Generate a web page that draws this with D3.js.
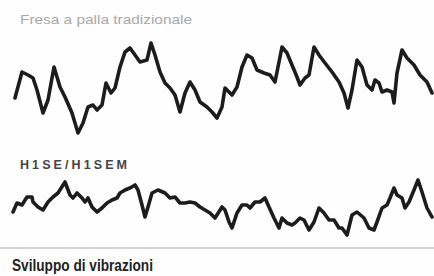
<!DOCTYPE html>
<html>
<head>
<meta charset="utf-8">
<script src="https://cdn.jsdelivr.net/npm/d3@7"></script>
<style>
  html, body { margin: 0; padding: 0; background: #fff; }
  svg { display: block; }
</style>
</head>
<body>
<svg id="chart" width="434" height="276"></svg>
<script>
// sample positions (time) and vibration amplitude, traditional ball-nose cutter
const tradTime = [15,22,28,33,37,43,48,54,60,65,72,78,83,88,93,97,102,106,111,115,120,125,130,135,140,147,151,155,160,165,170,175,180,185,190,195,200,207,212,217,222,225,232,237,242,247,252,257,264,270,275,282,287,292,297,300,305,309,314,319,325,332,339,344,348,352,357,362,367,372,375,379,382,387,392,394,397,402,407,414,420,427,432];
const tradAmp  = [42,68,65,62,50,27,40,73,53,43,27,7,17,33,35,30,35,57,47,52,73,88,92,85,78,80,97,85,68,57,52,45,28,47,58,50,38,33,28,22,33,52,45,53,73,85,82,70,67,65,58,93,87,75,63,55,62,65,93,85,77,68,58,47,32,50,80,73,55,50,60,57,48,50,48,37,67,90,82,75,65,58,47];

// new H1SE/H1SEM cutter
const h1Time = [13,17,22,27,32,33,38,43,48,53,58,65,70,73,77,82,85,88,92,97,102,107,112,117,120,125,130,135,138,142,145,148,152,158,165,170,175,180,185,190,195,200,205,210,215,222,225,229,232,237,242,247,250,255,260,265,269,274,279,282,287,292,295,300,304,309,314,319,324,329,334,339,342,347,352,357,364,369,374,377,382,387,390,394,397,402,405,409,414,418,422,427,432];
const h1Amp  = [28,37,35,43,43,38,33,30,38,43,47,58,45,42,47,42,38,42,33,28,32,37,40,42,47,50,52,55,50,35,23,33,47,50,47,42,43,37,37,38,37,33,30,27,22,33,30,18,12,27,35,35,32,38,38,42,33,22,12,22,17,15,17,22,20,10,18,32,27,20,20,12,12,5,25,28,22,12,10,18,32,35,42,52,45,42,32,38,50,60,48,32,23];

const titleTop = 'Fresa a palla tradizionale';
const titleBottom = 'H1SE/H1SEM';
const footer = 'Sviluppo di vibrazioni';

const svg = d3.select('#chart');
const width = 434, height = 276;

const x = d3.scaleLinear().domain([13, 432]).range([13, 432]);
const yTop = d3.scaleLinear().domain([0, 110]).range([140, 30]);
const yBottom = d3.scaleLinear().domain([0, 70]).range([240, 170]);

svg.append('rect').attr('width', width).attr('height', height).attr('fill', '#fefefe');

function drawTrace(times, amps, yScale) {
  const line = d3.line()
    .x((d, i) => x(times[i]))
    .y(d => yScale(d))
    .curve(d3.curveLinear);
  svg.append('path')
    .datum(amps)
    .attr('d', line)
    .attr('fill', 'none')
    .attr('stroke', '#1c1c1c')
    .attr('stroke-width', 3.6)
    .attr('stroke-linejoin', 'round')
    .attr('stroke-linecap', 'round');
}

drawTrace(tradTime, tradAmp, yTop);
drawTrace(h1Time, h1Amp, yBottom);

svg.append('text')
  .attr('x', 20).attr('y', 24)
  .attr('font-family', 'Liberation Sans, Arial, sans-serif')
  .attr('font-size', 13.5)
  .attr('fill', '#a8a8a8')
  .attr('textLength', 172)
  .attr('lengthAdjust', 'spacingAndGlyphs')
  .text(titleTop);

svg.append('text')
  .attr('x', 20).attr('y', 169)
  .attr('font-family', 'Liberation Sans, Arial, sans-serif')
  .attr('font-size', 12.5)
  .attr('font-weight', 'bold')
  .attr('fill', '#444')
  .attr('textLength', 107)
  .attr('lengthAdjust', 'spacing')
  .text(titleBottom);

svg.append('line')
  .attr('x1', 0).attr('x2', width)
  .attr('y1', 248).attr('y2', 248)
  .attr('stroke', '#c4c4c4')
  .attr('stroke-width', 1.6);

svg.append('text')
  .attr('x', 12).attr('y', 271)
  .attr('font-family', 'Liberation Sans, Arial, sans-serif')
  .attr('font-size', 16)
  .attr('font-weight', 'bold')
  .attr('fill', '#222')
  .attr('textLength', 141)
  .attr('lengthAdjust', 'spacingAndGlyphs')
  .text(footer);
</script>
</body>
</html>
